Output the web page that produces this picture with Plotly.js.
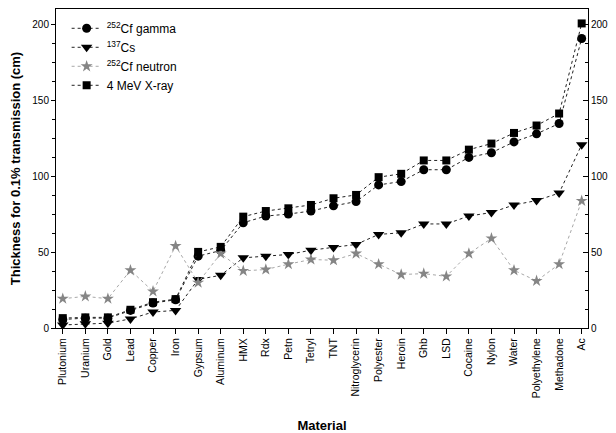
<!DOCTYPE html>
<html>
<head>
<meta charset="utf-8">
<script src="https://cdn.plot.ly/plotly-3.0.1.min.js"></script>
<style>html,body{margin:0;padding:0;background:#fff;}#chart{width:616px;height:433px;}</style>
</head>
<body>
<div id="chart"></div>
<script>
var materials = ["Plutonium","Uranium","Gold","Lead","Copper","Iron","Gypsum","Aluminum","HMX","Rdx","Petn","Tetryl","TNT","Nitroglycerin","Polyester","Heroin","Ghb","LSD","Cocaine","Nylon","Water","Polyethylene","Methadone","Ac"];
var cfGamma = [5.6,6.5,6.5,11.6,16.4,18.6,47.3,51,69.3,73.7,75,77,80.4,83.2,94.2,96.4,104.2,104.2,112.3,115.4,122.5,127.8,134.6,190.6];
var cs137 = [2,2.8,3.2,6,10.5,11.6,32,34.7,46.2,47.3,48.4,51.2,53,55,61.6,62.7,68.5,68.5,73.7,76,81,83.9,88.8,120.7];
var cfNeutron = [19.3,20.8,19.3,38,24.1,54,29.9,49,37.6,38.5,42,45.1,44.6,49,42,35.2,35.8,34,49,59,38,31,42,83.7];
var xray4MeV = [6.5,7,7,12,17,19,50.1,53.4,73.3,77,78.8,81,85.4,87.6,99.3,101.5,110.3,110.3,117.4,121.4,128.4,133.3,141.2,200.5];
var seriesNames = ["<sup>252</sup>Cf gamma","<sup>137</sup>Cs","<sup>252</sup>Cf neutron","4 MeV X-ray"];

var FONT = "Liberation Sans, Arial, sans-serif";
var traces = [
  {x: materials, y: cfGamma, name: seriesNames[0], mode: "lines+markers",
   line: {color: "#222", width: 1, dash: "dot"}, marker: {symbol: "circle", size: 9, color: "#000"}},
  {x: materials, y: cs137, name: seriesNames[1], mode: "lines+markers",
   line: {color: "#222", width: 1, dash: "dot"}, marker: {symbol: "triangle-down", size: 10, color: "#000"}},
  {x: materials, y: cfNeutron, name: seriesNames[2], mode: "lines+markers",
   line: {color: "#a8a8a8", width: 1, dash: "dot"}, marker: {symbol: "star", size: 9, color: "#858585"}},
  {x: materials, y: xray4MeV, name: seriesNames[3], mode: "lines+markers", yaxis: "y2",
   line: {color: "#222", width: 1, dash: "dot"}, marker: {symbol: "square", size: 8, color: "#000"}}
];

var layout = {
  width: 616, height: 433,
  margin: {l: 56, r: 28, t: 9, b: 105},
  paper_bgcolor: "#fff", plot_bgcolor: "#fff",
  font: {family: FONT, color: "#000", size: 10},
  showlegend: true,
  legend: {x: 0.02, y: 0.985, xanchor: "left", yanchor: "top", bgcolor: "rgba(0,0,0,0)",
           font: {family: FONT, size: 12, color: "#000"}, itemwidth: 30, tracegroupgap: 0},
  xaxis: {type: "category", range: [-0.3, 23.28], showgrid: false, zeroline: false,
          showline: true, linecolor: "#000", linewidth: 1, mirror: true,
          ticks: "outside", ticklen: 5, tickcolor: "#000", tickangle: -90,
          tickfont: {family: FONT, size: 10.5, color: "#000"},
          title: {text: "<b>Material</b>", font: {family: FONT, size: 13, color: "#000"}, standoff: 23}},
  yaxis: {range: [0, 210], showgrid: false, zeroline: false,
          showline: true, linecolor: "#000", linewidth: 1,
          ticks: "outside", ticklen: 4, tickcolor: "#000", dtick: 50, tick0: 0,
          minor: {dtick: 12.5, ticks: "outside", ticklen: 3, tickcolor: "#000"},
          tickfont: {family: FONT, size: 10, color: "#000"},
          title: {text: "<b>Thickness for 0.1% transmission (cm)</b>", font: {family: FONT, size: 13, color: "#000"}, standoff: 8}},
  yaxis2: {range: [0, 210], overlaying: "y", side: "right", anchor: "x", showgrid: false, zeroline: false,
          showline: true, linecolor: "#000", linewidth: 1,
          ticks: "inside", ticklen: 5, tickcolor: "#000", dtick: 50, tick0: 0,
          minor: {dtick: 12.5, ticks: "inside", ticklen: 3, tickcolor: "#000"},
          tickfont: {family: FONT, size: 10, color: "#000"}}
};

Plotly.newPlot("chart", traces, layout, {staticPlot: true, displayModeBar: false});
</script>
</body>
</html>
